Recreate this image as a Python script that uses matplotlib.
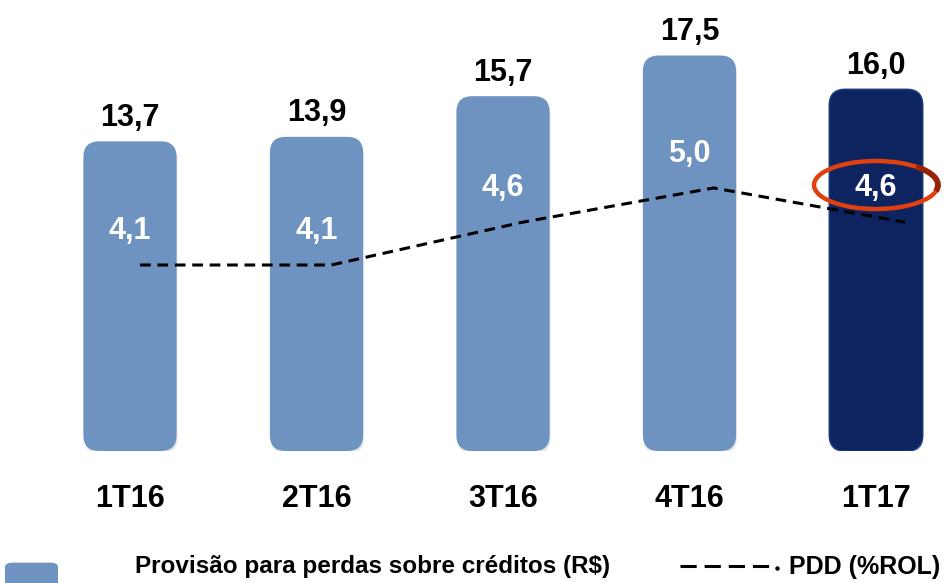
import numpy as np
import matplotlib
matplotlib.use("Agg")
import matplotlib.pyplot as plt
from matplotlib.patches import FancyBboxPatch, Arc
from matplotlib.lines import Line2D

plt.rcParams["font.family"] = ["Liberation Sans", "DejaVu Sans"]

# dados
trimestres = ["1T16", "2T16", "3T16", "4T16", "1T17"]
provisao = [13.7, 13.9, 15.7, 17.5, 16.0]       # R$ (barras)
pdd = [4.1, 4.1, 4.6, 5.0, 4.6]                 # %ROL (linha)

COR_BARRA = "#6E93C0"
COR_DESTAQUE = "#0D2460"


def fmt(v):
    return f"{v:.1f}".replace(".", ",")


fig = plt.figure(figsize=(9.53, 5.83), dpi=100)
W, H = 953, 583
bottom_px, top_px = 451, 40
rect = [0, 1 - bottom_px / H, 1, (bottom_px - top_px) / H]

# barras
ax = fig.add_axes(rect)
x = np.arange(len(trimestres))
ax.set_xlim(-130 / 186.5, 4 + (W - 876) / 186.5)
ax.set_ylim(0, (bottom_px - top_px) / 22.6)

cores = [COR_BARRA] * (len(x) - 1) + [COR_DESTAQUE]
bars = ax.bar(x, provisao, width=0.5, color=cores)
aspect = (1 / 22.6) / (1 / 186.5)
for b, c in zip(bars, cores):
    bx, by, bw, bh = b.get_x(), b.get_y(), b.get_width(), b.get_height()
    b.remove()
    # sombra leve
    ax.add_patch(FancyBboxPatch((bx + 0.004, by - 0.12), bw, bh,
                                boxstyle="round,pad=0,rounding_size=0.085",
                                mutation_aspect=aspect, fc="#000000",
                                alpha=0.10, ec="none", zorder=1))
    ax.add_patch(FancyBboxPatch((bx, by), bw, bh,
                                boxstyle="round,pad=0,rounding_size=0.085",
                                mutation_aspect=aspect, fc=c,
                                ec="#1a3a80" if c == COR_DESTAQUE else "none",
                                lw=1.2, zorder=2))

for xi, v in zip(x, provisao):
    ax.annotate(fmt(v), (xi, v), xytext=(0, 17), textcoords="offset points",
                ha="center", va="center", fontsize=22, fontweight="bold",
                color="black", zorder=5)

ax.set_xticks(x)
ax.set_xticklabels(trimestres, fontsize=22, fontweight="bold")
ax.tick_params(axis="x", length=0, pad=24)
ax.set_yticks([])
for s in ax.spines.values():
    s.set_visible(False)

# linha PDD
ax2 = fig.add_axes(rect)
ax2.patch.set_alpha(0)
ax2.set_xlim(-140 / 191.25, 4 + (W - 905) / 191.25)
ax2.set_ylim(4.1 - (bottom_px - 265) / 85.6, 4.1 + (265 - top_px) / 85.6)
ax2.plot(x, pdd, color="black", lw=2.2, ls=(0, (3.5, 2.2)), zorder=3)
ax2.axis("off")

# rótulos da linha (centralizados nas barras)
for xi, v in zip(x, pdd):
    ypix = 265 - (v - 4.1) * 85.6 - 34
    yval = (bottom_px - ypix) / 22.6
    ax.text(xi, yval, fmt(v), ha="center", va="center", fontsize=22,
            fontweight="bold", color="white", zorder=6)

# destaque vermelho no último trimestre
yc = (bottom_px - 185) / 22.6
ew, eh = 124 / 186.5, 48 / 22.6
ax.add_patch(Arc((x[-1], yc), ew, eh, theta1=60, theta2=330,
                 color="#E0400E", lw=3.2, zorder=7))
ax.add_patch(Arc((x[-1], yc), ew, eh, theta1=-40, theta2=75,
                 color="#9A2206", lw=4.2, zorder=7))

# legenda
fig.patches.append(FancyBboxPatch((5 / W, -0.02), 53 / W, 32 / H,
                                  boxstyle="round,pad=0,rounding_size=0.008",
                                  transform=fig.transFigure, fc=COR_BARRA,
                                  ec="none"))
fig.text(135 / W, 1 - 567 / H, "Provisão para perdas sobre créditos (R$)",
         fontsize=17.5, fontweight="bold", va="center", ha="left")
fig.lines.append(Line2D([680 / W, 770 / W], [1 - 566 / H] * 2,
                        transform=fig.transFigure, color="black", lw=2.2,
                        ls=(0, (5.3, 2.6))))
fig.lines.append(Line2D([777 / W], [1 - 568 / H], transform=fig.transFigure,
                        color="black", marker="o", ms=2.2, ls="none"))
fig.text(789 / W, 1 - 567 / H, "PDD (%ROL)", fontsize=18,
         fontweight="bold", va="center", ha="left")

fig.savefig("out.png", dpi=100)
